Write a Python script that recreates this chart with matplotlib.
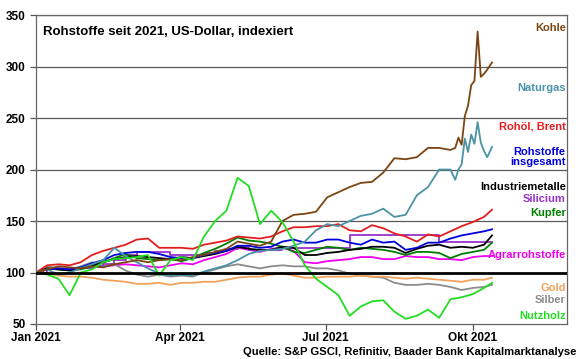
import matplotlib
matplotlib.use("Agg")
import matplotlib.pyplot as plt
import pandas as pd

plt.rcParams['font.family'] = ['Liberation Sans', 'DejaVu Sans']
plt.rcParams['font.weight'] = 'bold'

# weekly grid Jan 1 .. Oct 8, plus last quote Oct 13
dates = pd.date_range("2021-01-01", periods=41, freq="7D").append(pd.DatetimeIndex(["2021-10-13"]))
# finer grid for the end of coal / gas
tail_dates = pd.DatetimeIndex(["2021-09-20", "2021-09-22", "2021-09-24", "2021-09-26", "2021-09-28",
                               "2021-09-30", "2021-10-02", "2021-10-04", "2021-10-06", "2021-10-08",
                               "2021-10-10", "2021-10-13"])

kohle = [100, 103, 106, 105, 104, 106, 105, 108, 110, 112, 110, 112, 113, 112, 115, 117, 120, 123,
         130, 128, 126, 130, 150, 156, 157, 159, 173, 178, 183, 187, 188, 197, 211, 210, 212, 221,
         221, 219]
kohle_tail = [221, 231, 224, 252, 262, 282, 286, 334, 290, 293, 297, 304]

naturgas = [100, 103, 98, 100, 104, 108, 112, 124, 116, 110, 104, 99, 97, 98, 97, 101, 104, 107,
            112, 118, 121, 122, 123, 126, 130, 141, 147, 145, 150, 155, 157, 162, 154, 156, 175, 183,
            200, 200]
naturgas_tail = [190, 200, 205, 230, 217, 234, 225, 246, 226, 218, 212, 222]

brent = [100, 107, 108, 107, 110, 117, 121, 124, 127, 132, 133, 124, 124, 124, 123, 127, 129, 131,
         135, 134, 133, 135, 140, 144, 144, 145, 145, 147, 141, 140, 146, 143, 138, 135, 130, 137,
         135, 140, 145, 149, 154, 161]
gesamt = [100, 103, 104, 103, 105, 109, 112, 117, 119, 120, 120, 118, 115, 114, 114, 117, 119, 121,
          126, 126, 124, 125, 130, 132, 129, 129, 132, 132, 129, 127, 132, 129, 130, 122, 124, 129,
          129, 133, 136, 138, 140, 142]
industriemetalle = [100, 104, 103, 102, 104, 107, 110, 113, 115, 116, 115, 114, 113, 115, 114, 116,
                    118, 121, 125, 123, 122, 122, 125, 124, 117, 117, 119, 120, 122, 123, 125, 125,
                    124, 119, 123, 126, 127, 124, 125, 124, 127, 136]
silicium = [100, 103, 103, 103, 104, 106, 108, 112, 117, 120, 120, 120, 117, 117, 117, 119, 121, 123,
            125, 122, 122, 122, 124, 124, 124, 124, 124, 124, 136, 136, 136, 136, 136, 136, 136, 136,
            130, 130, 130, 130, 130, 130]
kupfer = [100, 104, 103, 102, 103, 106, 110, 114, 118, 114, 113, 112, 113, 111, 114, 119, 123, 128,
          134, 131, 130, 128, 125, 120, 119, 122, 125, 124, 122, 124, 123, 122, 120, 117, 120, 120,
          119, 114, 118, 120, 122, 129]
agrar = [100, 103, 104, 103, 104, 105, 106, 107, 108, 107, 106, 105, 107, 109, 108, 112, 115, 118,
         124, 122, 120, 123, 124, 121, 110, 109, 111, 112, 113, 115, 115, 113, 113, 116, 115, 115,
         113, 113, 112, 115, 116, 116]
gold = [100, 99, 97, 96, 96, 95, 93, 92, 91, 89, 89, 90, 88, 90, 90, 91, 91, 93, 95, 96, 96, 98, 99,
        97, 95, 95, 96, 96, 96, 97, 96, 96, 95, 94, 95, 94, 93, 92, 91, 93, 93, 95]
silber = [100, 106, 104, 103, 106, 110, 106, 108, 102, 98, 96, 98, 96, 97, 96, 100, 103, 106, 108,
          106, 104, 106, 107, 106, 106, 104, 104, 102, 99, 97, 96, 95, 90, 88, 88, 89, 88, 86, 83, 85,
          86, 88]
nutzholz = [100, 98, 94, 78, 100, 103, 110, 113, 114, 115, 117, 97, 112, 115, 112, 135, 150, 160, 192,
            184, 147, 160, 149, 130, 107, 94, 86, 78, 58, 67, 72, 73, 62, 55, 58, 64, 56, 74, 76, 79,
            85, 90]

labels = ["Kohle", "Naturgas", "Rohöl, Brent", "Rohstoffe\ninsgesamt", "Industriemetalle",
          "Silicium", "Kupfer", "Agrarrohstoffe", "Gold", "Silber", "Nutzholz"]
label_y = [337, 279, 242, 212, 183, 171, 158, 117, 85, 73, 58]

c_kohle, c_gas, c_brent, c_ges = "#7B4512", "#4A93A8", "#E41E1E", "#0000DD"
c_ind, c_sil, c_kup, c_agr = "#000000", "#9933CC", "#008000", "#F000F0"
c_gold, c_silber, c_holz = "#F3A25C", "#8C8C8C", "#22DD22"
label_colors = [c_kohle, c_gas, c_brent, c_ges, c_ind, c_sil, c_kup, c_agr, c_gold, c_silber, c_holz]

fig = plt.figure(figsize=(5.8, 3.59), dpi=100)
ax = fig.add_axes([0.062, 0.0975, 0.916, 0.8605])

lw = 1.3
ax.plot(dates, agrar, color=c_agr, lw=lw)
ax.plot(dates, silber, color=c_silber, lw=lw)
ax.plot(dates, gold, color=c_gold, lw=lw)
ax.plot(dates, silicium, color=c_sil, lw=lw, drawstyle="steps-post")
ax.plot(dates, kupfer, color=c_kup, lw=lw)
ax.plot(dates, industriemetalle, color=c_ind, lw=lw)
ax.plot(dates, gesamt, color=c_ges, lw=lw)
ax.plot(dates, brent, color=c_brent, lw=lw)
ax.plot(dates[:len(naturgas)].append(tail_dates), naturgas + naturgas_tail, color=c_gas, lw=lw)
ax.plot(dates[:len(kohle)].append(tail_dates), kohle + kohle_tail, color=c_kohle, lw=lw)
ax.plot(dates, nutzholz, color=c_holz, lw=lw)

ax.set_ylim(50, 350)
ax.set_xlim(pd.Timestamp("2021-01-01"), pd.Timestamp("2021-11-29"))
ax.set_yticks(range(50, 351, 50))
for v in range(150, 351, 50):
    ax.axhline(v, color="#5a5a5a", lw=0.9, zorder=0)
ax.axhline(100, color="black", lw=2.0, zorder=5)

xt = pd.DatetimeIndex(["2021-01-01", "2021-04-01", "2021-07-01", "2021-10-01"])
ax.set_xticks(xt)
ax.set_xticklabels(["Jan 2021", "Apr 2021", "Jul 2021", "Okt 2021"])
ax.tick_params(axis="both", labelsize=8.5, length=4, width=0.9, color="#555555", direction="out")
ax.tick_params(axis="x", pad=2)
for s in ax.spines.values():
    s.set_color("#666666")
    s.set_linewidth(0.9)

ax.text(0.013, 0.965, "Rohstoffe seit 2021, US-Dollar, indexiert", transform=ax.transAxes,
        fontsize=9.5, fontweight="bold", va="top", ha="left")

lab_x = pd.Timestamp("2021-11-28")
for txt, yv, col in zip(labels, label_y, label_colors):
    ax.text(lab_x, yv, txt, color=col, fontsize=8, fontweight="bold", ha="right", va="center",
            linespacing=1.0, zorder=10)

fig.text(0.993, 0.019, "Quelle: S&P GSCI, Refinitiv, Baader Bank Kapitalmarktanalyse",
         fontsize=8.1, fontweight="bold", ha="right", va="center")

fig.savefig("out.png", dpi=100)
